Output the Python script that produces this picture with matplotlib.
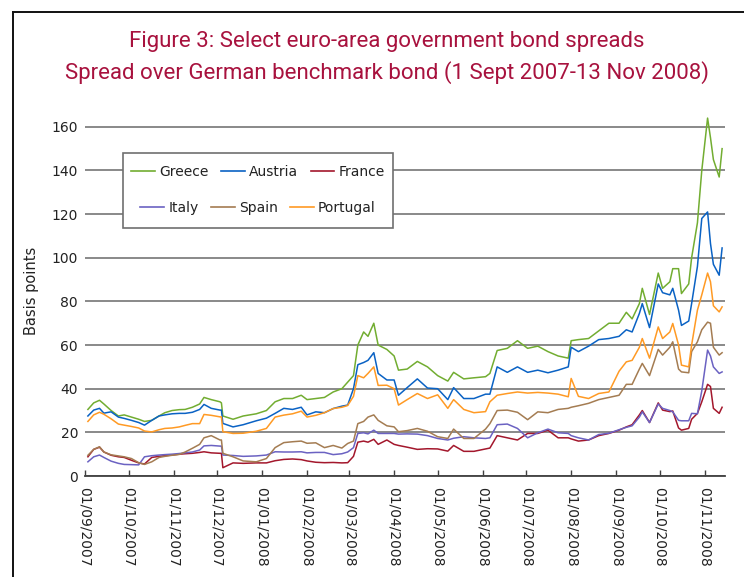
import matplotlib
matplotlib.use("Agg")
import matplotlib.pyplot as plt
import matplotlib.dates as mdates
from matplotlib.lines import Line2D
from matplotlib.patches import Rectangle
import numpy as np

# ---------------- data ----------------
dates = [
    "2007-09-03", "2007-09-07", "2007-09-11", "2007-09-14", "2007-09-19", "2007-09-24", "2007-09-28",
    "2007-10-03", "2007-10-08", "2007-10-12", "2007-10-17", "2007-10-22", "2007-10-26", "2007-10-31",
    "2007-11-05", "2007-11-09", "2007-11-14", "2007-11-19", "2007-11-22", "2007-11-27", "2007-12-03",
    "2007-12-04", "2007-12-05", "2007-12-12", "2007-12-19", "2007-12-28", "2008-01-04", "2008-01-10",
    "2008-01-16", "2008-01-22", "2008-01-28", "2008-02-01", "2008-02-07", "2008-02-13", "2008-02-19",
    "2008-02-25", "2008-02-29", "2008-03-04", "2008-03-07", "2008-03-11", "2008-03-14", "2008-03-18",
    "2008-03-21", "2008-03-27", "2008-04-01", "2008-04-04", "2008-04-10", "2008-04-17", "2008-04-24",
    "2008-05-01", "2008-05-08", "2008-05-12", "2008-05-19", "2008-05-26", "2008-06-03", "2008-06-06",
    "2008-06-11", "2008-06-18", "2008-06-25", "2008-07-02", "2008-07-09", "2008-07-16", "2008-07-23",
    "2008-07-30", "2008-08-01", "2008-08-06", "2008-08-13", "2008-08-20", "2008-08-27", "2008-09-03",
    "2008-09-08", "2008-09-12", "2008-09-17", "2008-09-19", "2008-09-24", "2008-09-30", "2008-10-03",
    "2008-10-08", "2008-10-10", "2008-10-14", "2008-10-16", "2008-10-21", "2008-10-23", "2008-10-27",
    "2008-10-30", "2008-11-03", "2008-11-05", "2008-11-07", "2008-11-11", "2008-11-13",
]

greece = [
    30.5, 33.5, 34.7, 33.0, 30.0, 27.5, 28.0,
    27.0, 26.0, 25.0, 25.5, 27.5, 29.0, 30.0,
    30.4, 30.5, 31.5, 33.0, 36.0, 35.0, 34.0,
    33.5, 27.5, 26.0, 27.5, 28.5, 30.0, 34.0,
    35.5, 35.5, 37.0, 35.0, 35.5, 36.0, 38.5,
    40.0, 43.0, 46.0, 60.0, 66.0, 64.0, 70.0,
    60.0, 58.0, 55.0, 48.5, 49.0, 52.5, 50.0,
    46.0, 43.5, 47.5, 44.5, 45.0, 45.5, 47.0,
    57.5, 58.5, 62.0, 58.5, 59.5, 57.0, 55.0,
    54.0, 62.0, 62.5, 63.0, 66.5, 70.0, 70.0,
    75.0, 72.0, 79.0, 86.0, 74.0, 93.0, 86.0,
    89.0, 95.0, 95.0, 83.6, 88.0, 100.0, 116.0,
    140.0, 164.0, 155.0, 145.0, 137.0, 150.0,
]

austria = [
    27.5, 30.2, 31.0, 28.8, 29.4, 27.0, 26.4,
    25.5, 24.5, 23.3, 25.5, 27.5, 28.0, 28.5,
    28.7, 28.7, 29.2, 30.5, 32.8, 31.0, 30.2,
    30.2, 24.1, 22.5, 23.5, 25.3, 26.5, 28.7,
    31.0, 30.5, 31.5, 28.0, 29.4, 29.0, 30.9,
    32.0, 32.5, 40.0, 51.0, 52.0, 53.0, 56.5,
    47.0, 44.0, 44.0, 37.0, 40.5, 44.5, 40.3,
    40.0, 35.0, 40.5, 35.5, 35.5, 37.5, 37.5,
    50.0, 47.5, 50.0, 47.5, 48.5, 47.3, 48.5,
    50.0, 59.0, 57.0, 59.5, 62.5, 63.0, 64.0,
    67.0, 66.0, 74.5, 79.0, 68.0, 88.0, 84.0,
    83.0, 86.0, 76.0, 69.0, 71.0, 79.0, 96.0,
    118.0, 121.0, 106.5, 97.0, 92.0, 104.5,
]

france = [
    8.8, 12.2, 13.2, 11.0, 9.5, 8.8, 8.5,
    7.2, 6.0, 5.5, 8.5, 9.0, 9.3, 9.6,
    10.0, 10.2, 10.4, 10.8, 11.1, 10.6, 10.4,
    10.4, 3.8, 6.0, 5.8, 6.0, 6.0, 7.0,
    7.6, 7.8, 7.5, 6.9, 6.3, 6.1, 6.2,
    6.0, 6.1, 9.0, 15.5, 16.0, 15.5, 16.8,
    14.5, 16.5, 14.5, 14.0, 13.2, 12.2, 12.5,
    12.4, 11.4, 14.0, 11.3, 11.3, 12.4, 12.8,
    18.5, 17.5, 16.5, 19.5, 19.5, 21.0, 17.5,
    17.5, 17.0, 16.0, 16.5, 18.5, 19.5, 21.0,
    22.5, 23.5, 28.0, 30.0, 24.5, 33.5, 30.2,
    29.5, 29.8, 22.0, 21.0, 21.8, 26.0, 28.7,
    34.0, 42.0, 41.0, 31.0, 28.7, 31.5,
]

italy = [
    6.5, 8.8, 9.6, 8.5, 6.8, 5.8, 5.3,
    5.2, 5.1, 8.8, 9.3, 9.6, 9.8, 10.0,
    10.3, 10.6, 11.0, 11.9, 13.8, 14.0, 13.7,
    13.7, 9.6, 9.4, 9.0, 9.2, 9.6, 11.1,
    11.0, 11.0, 11.1, 10.6, 10.8, 10.8, 9.8,
    10.2, 11.0, 13.0, 19.5, 19.8, 19.3, 21.0,
    19.5, 19.5, 19.5, 19.2, 19.3, 19.2, 18.5,
    17.2, 16.5, 17.3, 18.0, 17.5, 17.2, 17.5,
    23.5, 23.8, 21.8, 17.5, 19.8, 21.5, 19.8,
    19.5, 18.5, 17.5, 16.5, 19.0, 19.6, 21.2,
    22.3, 23.0, 27.0, 29.4, 24.5, 33.0, 31.0,
    30.0, 29.4, 25.5, 25.3, 25.3, 28.7, 28.5,
    39.0, 57.7, 55.0, 50.0, 47.0, 47.7,
]

spain = [
    9.5, 12.2, 13.4, 11.0, 9.7, 9.2, 8.8,
    8.0, 6.1, 5.3, 6.5, 8.5, 9.0, 9.5,
    9.9, 11.0, 12.7, 14.5, 17.5, 18.5, 16.5,
    16.5, 10.4, 8.8, 6.9, 6.5, 8.0, 13.0,
    15.3, 15.7, 16.0, 15.0, 15.2, 13.0, 14.0,
    12.8, 14.9, 16.0, 24.0, 25.0, 27.0, 28.0,
    25.5, 23.0, 22.5, 20.3, 20.8, 21.8, 20.5,
    18.0, 17.2, 21.5, 17.2, 17.2, 21.5, 24.0,
    30.0, 30.2, 29.2, 25.8, 29.4, 29.0, 30.5,
    31.0, 31.5, 32.2, 33.3, 35.0, 36.0, 37.0,
    42.0, 42.0, 49.0, 51.6, 46.0, 58.0, 55.4,
    59.0, 61.5, 49.0, 47.7, 47.3, 57.0, 61.5,
    67.0, 70.5, 70.0, 59.0, 55.4, 56.5,
]

portugal = [
    25.0, 28.0, 29.2, 28.3, 26.2, 23.8, 23.3,
    22.7, 22.0, 20.6, 20.2, 21.2, 21.8, 22.0,
    22.5, 23.2, 24.0, 24.0, 28.2, 27.8, 27.1,
    27.1, 20.3, 19.5, 19.6, 20.5, 21.8, 27.0,
    27.9, 28.5, 29.7, 27.0, 27.8, 29.0, 30.9,
    31.5, 32.3, 36.5, 46.0, 45.0, 47.0, 50.0,
    41.5, 41.6, 40.0, 32.5, 35.0, 37.8, 35.5,
    37.2, 31.0, 35.0, 30.5, 29.0, 29.5, 34.0,
    37.0, 37.8, 38.5, 38.0, 38.3, 38.0, 37.5,
    36.3, 44.7, 36.5, 35.5, 37.8, 38.5, 48.0,
    52.3, 53.0, 59.0, 63.0, 54.0, 68.3, 63.0,
    66.0, 69.9, 60.0, 50.8, 50.0, 60.0, 76.0,
    83.0, 93.0, 89.0, 78.0, 75.2, 77.5,
]

series_names = ["Greece", "Austria", "France", "Italy", "Spain", "Portugal"]
series_values = [greece, austria, france, italy, spain, portugal]
series_colors = ["#72AD31", "#0A62C4", "#A3172C", "#6B62C2", "#A47C52", "#FF9A24"]

y_ticks = [0, 20, 40, 60, 80, 100, 120, 140, 160]

title_line1 = "Figure 3: Select euro-area government bond spreads"
title_line2 = "Spread over German benchmark bond (1 Sept 2007-13 Nov 2008)"

# ---------------- figure ----------------
W, H = 744, 577
fig = plt.figure(figsize=(W / 100, H / 100), dpi=100)
fig.patch.set_facecolor("white")

ax = fig.add_axes([85 / W, 1 - 476 / H, (725 - 85) / W, (476 - 105) / H])
x = np.array(dates, dtype="datetime64[D]")

for name, vals, col in zip(series_names, series_values, series_colors):
    ax.plot(x, vals, color=col, lw=1.1, label=name, zorder=3)

ax.set_ylim(0, 170)
ax.set_xlim(np.datetime64("2007-09-01"), np.datetime64("2008-11-15"))
ax.set_yticks(y_ticks)
ax.yaxis.grid(True, color="#808080", lw=1.3)
ax.set_axisbelow(True)
for s in ["top", "right", "left"]:
    ax.spines[s].set_visible(False)
ax.spines["bottom"].set_color("#404040")
ax.spines["bottom"].set_linewidth(1.3)

ax.tick_params(axis="y", length=0, pad=5, labelsize=10, labelcolor="#222222")
ax.xaxis.set_major_locator(mdates.MonthLocator())
ax.xaxis.set_major_formatter(mdates.DateFormatter("%d/%m/%Y"))
ax.tick_params(axis="x", direction="in", length=4, width=1, color="#404040",
               pad=8, labelsize=10, labelcolor="#222222")
for lab in ax.get_xticklabels():
    lab.set_rotation(-90)
    lab.set_ha("center")
    lab.set_va("top")

ax.set_ylabel("Basis points", fontsize=10.5, color="#222222")
ax.yaxis.set_label_coords(-0.072, 0.5)

# title
title_color = "#A8123E"
title_font = ["Roboto", "DejaVu Sans"]
fig.text(0.52, 1 - 42 / H, title_line1, ha="center", va="center", fontsize=16,
         color=title_color, family=title_font)
fig.text(0.52, 1 - 73 / H, title_line2, ha="center", va="center", fontsize=16,
         color=title_color, family=title_font)

# legend (box + two centred rows)
handles = [Line2D([], [], color=c, lw=1.2) for c in series_colors]
box = Rectangle((122.7 / W, 1 - 227.7 / H), 270.3 / W, 75 / H, transform=fig.transFigure,
                facecolor="white", edgecolor="#707070", lw=1.2, zorder=4)
fig.patches.append(box)
leg_kw = dict(ncol=3, loc="center", frameon=False, fontsize=10, handlelength=1.7,
              handletextpad=0.3, columnspacing=0.9, borderpad=0, labelcolor="#222222")
leg1 = fig.legend(handles[:3], series_names[:3], bbox_to_anchor=(258 / W, 1 - 172.3 / H), **leg_kw)
leg2 = fig.legend(handles[3:], series_names[3:], bbox_to_anchor=(258 / W, 1 - 207.7 / H), **leg_kw)
leg1.set_zorder(6)
leg2.set_zorder(6)

# outer frame (left and top edges)
fig.add_artist(Line2D([13 / W, 13 / W], [0, 1 - 12 / H], transform=fig.transFigure, color="#111111", lw=1.4))
fig.add_artist(Line2D([13 / W, 1], [1 - 12 / H, 1 - 12 / H], transform=fig.transFigure, color="#111111", lw=1.4))

fig.savefig("out.png", dpi=100, facecolor="white")
